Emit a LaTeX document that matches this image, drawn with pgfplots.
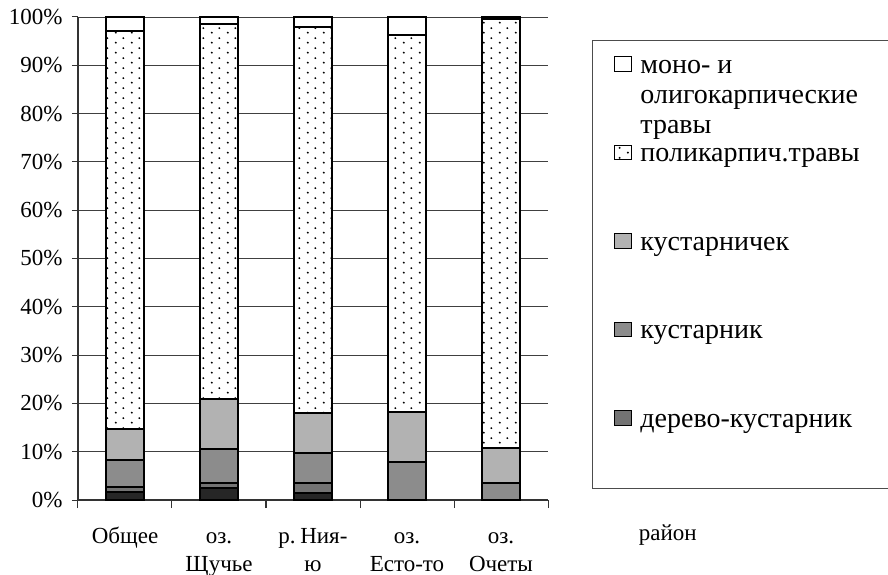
\documentclass[border=0pt]{standalone}
\usepackage{fontspec}
\setmainfont{Liberation Serif}
\usepackage{pgfplots}
\pgfplotsset{compat=1.18}
\usetikzlibrary{patterns}
\pgfdeclarepatternformonly{sparsedots}{\pgfpointorigin}{\pgfpoint{16pt}{10pt}}{\pgfpoint{16pt}{10pt}}{%
 \pgfpathcircle{\pgfpoint{4pt}{2.5pt}}{1.1pt}\pgfpathcircle{\pgfpoint{12pt}{7.5pt}}{1.1pt}\pgfusepath{fill}}
\begin{document}
\begin{tikzpicture}
\path[use as bounding box] (-78pt,-75pt) rectangle (810pt,500pt);
\begin{axis}[
 at={(0,0)}, anchor=south west,
 scale only axis, width=470pt, height=483pt,
 ybar stacked, bar width=38pt,
 xmin=-0.5, xmax=4.5, ymin=0, ymax=100,
 axis lines*=left,
 axis line style={line width=1.2pt, black!80},
 tick align=outside,
 xtick={0,1,2,3,4},
 xticklabels={\strut Общее,{\strut оз.\\Щучье},{\strut\mbox{р.\hspace{0.2em}Ния-}\\ю},{\strut оз.\\Есто-то},{\strut оз.\\Очеты}},
 xticklabel style={align=center, font=\fontsize{23pt}{28pt}\selectfont, anchor=north, yshift=-14pt},
 minor xtick={-0.5,0.5,...,4.5},
 major x tick style={draw=none},
 minor tick length=8pt, major tick length=6pt,
 tick style={line width=1pt, black!80},
 ytick={0,10,...,100},
 ymajorgrids, grid style={black!75, line width=0.8pt},
 /pgf/number format/assume math mode=true,
 yticklabel={\pgfmathprintnumber{\tick}\%},
 yticklabel style={font=\fontsize{23pt}{26pt}\selectfont, xshift=-6pt},
 xlabel={район},
 xlabel style={at={(axis description cs:1.255,0)}, anchor=base, yshift=-40pt, font=\fontsize{23pt}{26pt}\selectfont},
 reverse legend,
 legend style={at={(axis description cs:1.1404,0.9234)}, anchor=north west, draw=none, fill=none, inner sep=0pt,
   row sep=66pt, column sep=6.5pt, font=\fontsize{28pt}{30pt}\selectfont,
   cells={anchor=base west, text height=17pt, text depth=0pt}},
 legend image code/.code={\draw[#1, line width=1.3pt, draw=black] (0pt,2pt) rectangle (16.5pt,16.5pt);},
]
\addplot[draw=black, line width=2pt, fill=black!85, forget plot] coordinates {(0,1.7) (1,2.4) (2,1.4) (3,0) (4,0)};
\addplot[draw=black, line width=2pt, fill=black!55] coordinates {(0,0.9) (1,1.1) (2,2.1) (3,0) (4,0)};
\addlegendentry{дерево-кустарник}
\addplot[draw=black, line width=2pt, fill=black!45] coordinates {(0,5.7) (1,7.0) (2,6.2) (3,7.8) (4,3.5)};
\addlegendentry{кустарник}
\addplot[draw=black, line width=2pt, fill=black!30] coordinates {(0,6.5) (1,10.4) (2,8.4) (3,10.5) (4,7.2)};
\addlegendentry{кустарничек}
\addplot[draw=black, line width=2pt, fill=white, postaction={pattern=sparsedots}] coordinates {(0,82.3) (1,77.6) (2,79.9) (3,78.0) (4,88.9)};
\addlegendentry{поликарпич.травы}
\addplot[draw=black, line width=2pt, fill=white] coordinates {(0,2.9) (1,1.5) (2,2.0) (3,3.7) (4,0.4)};
\addlegendentry{\parbox[t]{250pt}{моно- и\\олигокарпические\\травы}}
\end{axis}
\draw[line width=0.8pt, black!70] (820pt,460pt) -- (514pt,460pt) -- (514pt,12pt) -- (820pt,12pt);
\end{tikzpicture}
\end{document}
